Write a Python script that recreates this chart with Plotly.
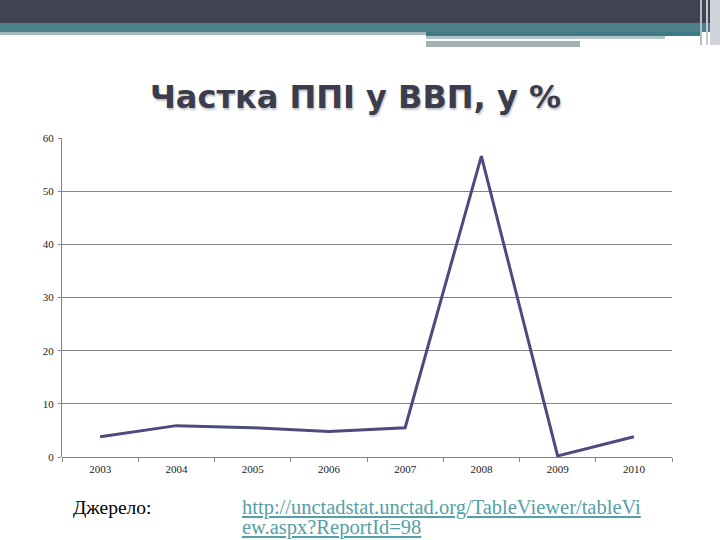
import plotly.graph_objects as go

years = ["2003", "2004", "2005", "2006", "2007", "2008", "2009", "2010"]
share = [3.8, 5.9, 5.5, 4.8, 5.5, 56.6, 0.2, 3.8]
y_ticks = [0, 10, 20, 30, 40, 50, 60]

title_text = "Частка ППІ у ВВП, у %"
source_label = "Джерело:"
source_url_1 = "http://unctadstat.unctad.org/TableViewer/tableVi"
source_url_2 = "ew.aspx?ReportId=98"

W, H = 720, 540
L, R, T, B = 62, 48, 138, 83
PW, PH = W - L - R, H - T - B


def px(x):
    return (x - L) / PW


def py(y):
    return (H - B - y) / PH


def band(x0, x1, y0, y1, color):
    return dict(type="rect", xref="paper", yref="paper",
                x0=px(x0), x1=px(x1), y0=py(y1), y1=py(y0),
                fillcolor=color, line_width=0, layer="below")


fig = go.Figure()
fig.add_trace(go.Scatter(
    x=years, y=share, mode="lines",
    line=dict(color="#4b4b7d", width=3),
    hoverinfo="skip", showlegend=False,
))

grid = "#858585"
tick_font = dict(family="Liberation Serif", size=11, color="#222")
fig.update_layout(
    width=W, height=H,
    paper_bgcolor="white", plot_bgcolor="white",
    margin=dict(l=L, r=R, t=T, b=B),
    xaxis=dict(
        type="category", tickson="boundaries", range=[-0.5, 7.5],
        ticks="outside", ticklen=4, tickcolor=grid,
        showgrid=False, showline=False, zeroline=False,
        tickfont=tick_font, ticklabelstandoff=4,
    ),
    yaxis=dict(
        range=[0, 60], tickvals=y_ticks,
        ticks="outside", ticklen=3, tickcolor=grid,
        showgrid=True, gridcolor=grid, gridwidth=1,
        showline=True, linecolor=grid, linewidth=1,
        zeroline=True, zerolinecolor=grid, zerolinewidth=1,
        tickfont=tick_font, ticklabelstandoff=2,
    ),
    shapes=[
        band(0, 720, 0, 23, "#3f4354"),
        band(0, 720, 23, 32, "#4a8089"),
        band(0, 426, 32, 35, "#a9b8bd"),
        band(426, 702, 32, 36, "#3f7a84"),
        band(426, 665, 36, 39, "#b2c6ca"),
        band(426, 580, 41, 47, "#a3b1b2"),
        band(700, 702, 0, 45, "#b8bcc8"),
        band(706, 708, 0, 45, "#c6c8d2"),
        band(710, 720, 0, 45, "#d0d2dc"),
    ],
    annotations=[
        dict(text="<b>" + title_text + "</b>", xref="paper", yref="paper",
             x=px(355), y=py(97), xanchor="center", yanchor="middle", showarrow=False,
             font=dict(family="DejaVu Sans", size=32, color="#3b3d4c",
                       shadow="1px 2px 2px #c4c4c8")),
        dict(text=source_label, xref="paper", yref="paper", x=px(71), y=py(507),
             xanchor="left", yanchor="middle", showarrow=False,
             font=dict(family="Liberation Serif", size=19.5, color="black")),
        dict(text=source_url_1,
             xref="paper", yref="paper", x=px(240), y=py(507),
             xanchor="left", yanchor="middle", align="left", showarrow=False,
             font=dict(family="Liberation Serif", size=20.5, color="#559fa9",
                       lineposition="under")),
        dict(text=source_url_2,
             xref="paper", yref="paper", x=px(240), y=py(527),
             xanchor="left", yanchor="middle", align="left", showarrow=False,
             font=dict(family="Liberation Serif", size=20.5, color="#559fa9",
                       lineposition="under")),
    ],
)

fig.write_html("out.html", config={"displayModeBar": False},
               post_script="document.body.style.margin='0';")
